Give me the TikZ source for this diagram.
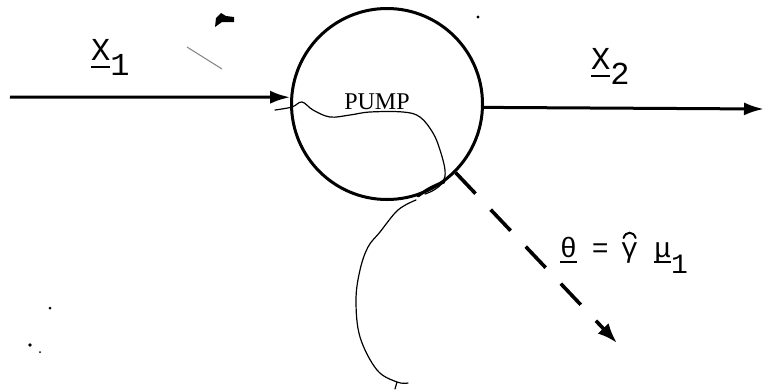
\documentclass[tikz,border=0pt]{standalone}
\usepackage{fontspec}
\setmainfont{Liberation Serif}
\newfontfamily\labfont{Liberation Mono}
\usetikzlibrary{arrows.meta,calc}
\newcommand\ulbox[2]{\setbox0\hbox{#2}\rlap{\rule[-#1]{\wd0}{2pt}}\box0}
\newcommand\lowsub[2]{\raisebox{-#1}{#2}}
\begin{document}
\begin{tikzpicture}[x=1pt,y=-1pt,
  thick line/.style={line width=3pt},
  arr/.style={thick line,-{Latex[length=20pt,width=13pt]}},
  dasharr/.style={line width=3.6pt,-{Latex[length=20pt,width=15pt]},dash pattern=on 29pt off 22pt},
  wire/.style={line width=1.2pt,line join=round,line cap=round},
  lab/.style={inner sep=0pt,font=\labfont\fontsize{32}{34}\selectfont},
  thlab/.style={inner sep=0pt,font=\labfont\fontsize{28}{30}\selectfont},
  speck/.style={fill=black,draw=none}]
\useasboundingbox (0,0) rectangle (765,389);
% pump
\node[draw,circle,thick line,minimum size=191pt,inner sep=0pt] (pump) at (387,104) {};
\node[inner sep=0pt,font=\fontsize{24}{26}\selectfont] (pumptext) at (377,102) {PUMP};
% input / output
\coordinate (in) at (10,97);
\coordinate (out) at (764,109);
\coordinate (theta) at (617,343);
\draw[arr] (in) -- (pump.176);
\draw[arr] (pump.-2) -- (out);
\draw[dasharr] (pump.-45) -- (theta);
% labels
\node[lab,anchor=base west] (x1) at (91,60) {\ulbox{8pt}{X}\lowsub{15pt}{1}};
\node[lab,anchor=base west] (x2) at (591,69) {\ulbox{8pt}{X}\lowsub{15pt}{2}};
\node[thlab,anchor=base west] (eqa) at (560,257) {\ulbox{6pt}{θ}\hspace{15pt}=};
\node[thlab,anchor=base west] (gam) at ($(eqa.base east)+(12,0)$) {γ};
\node[thlab,anchor=base west] (eqb) at ($(gam.base east)+(16,0)$) {\ulbox{6pt}{μ}\lowsub{16pt}{1}};
\draw[line width=2pt,line cap=round] ($(gam.north)+(-6,-4)$) .. controls ($(gam.north)+(-4,-11)$) and ($(gam.north)+(4,-11)$) .. ($(gam.north)+(6,-4)$);
% wire
\draw[wire] plot[smooth,tension=0.6] coordinates {(275,110) (292,107) (302,102) (313,110) (330,117) (350,115) (370,112) (403,112) (420,117) (433,133) (440,150) (445,170) (443,182) (434,190) (425,194)};
\draw[line width=3pt,line cap=round] (418,196) to[bend left=8] (444,182);
\draw[wire] plot[smooth,tension=0.6] coordinates {(416,200) (398,210) (380,232) (368,247) (360,270) (356,300) (360,337) (377,370) (397,382) (408,383)};
\draw[wire] (397,382) -- (395,389);
% scan marks
\draw[line width=1pt,gray] (187,47) -- (222,69);
\fill[speck] (215,27) -- (216,18) -- (221,13) -- (226,16) -- (234,17) -- (234,22) -- (222,22) -- cycle;
\fill[speck] (478,17) circle (1.6pt);
\fill[speck] (30,345) circle (1.8pt);
\fill[speck] (50,308) circle (1.5pt);
\fill[speck] (40,352) circle (1pt);
\end{tikzpicture}
\end{document}
